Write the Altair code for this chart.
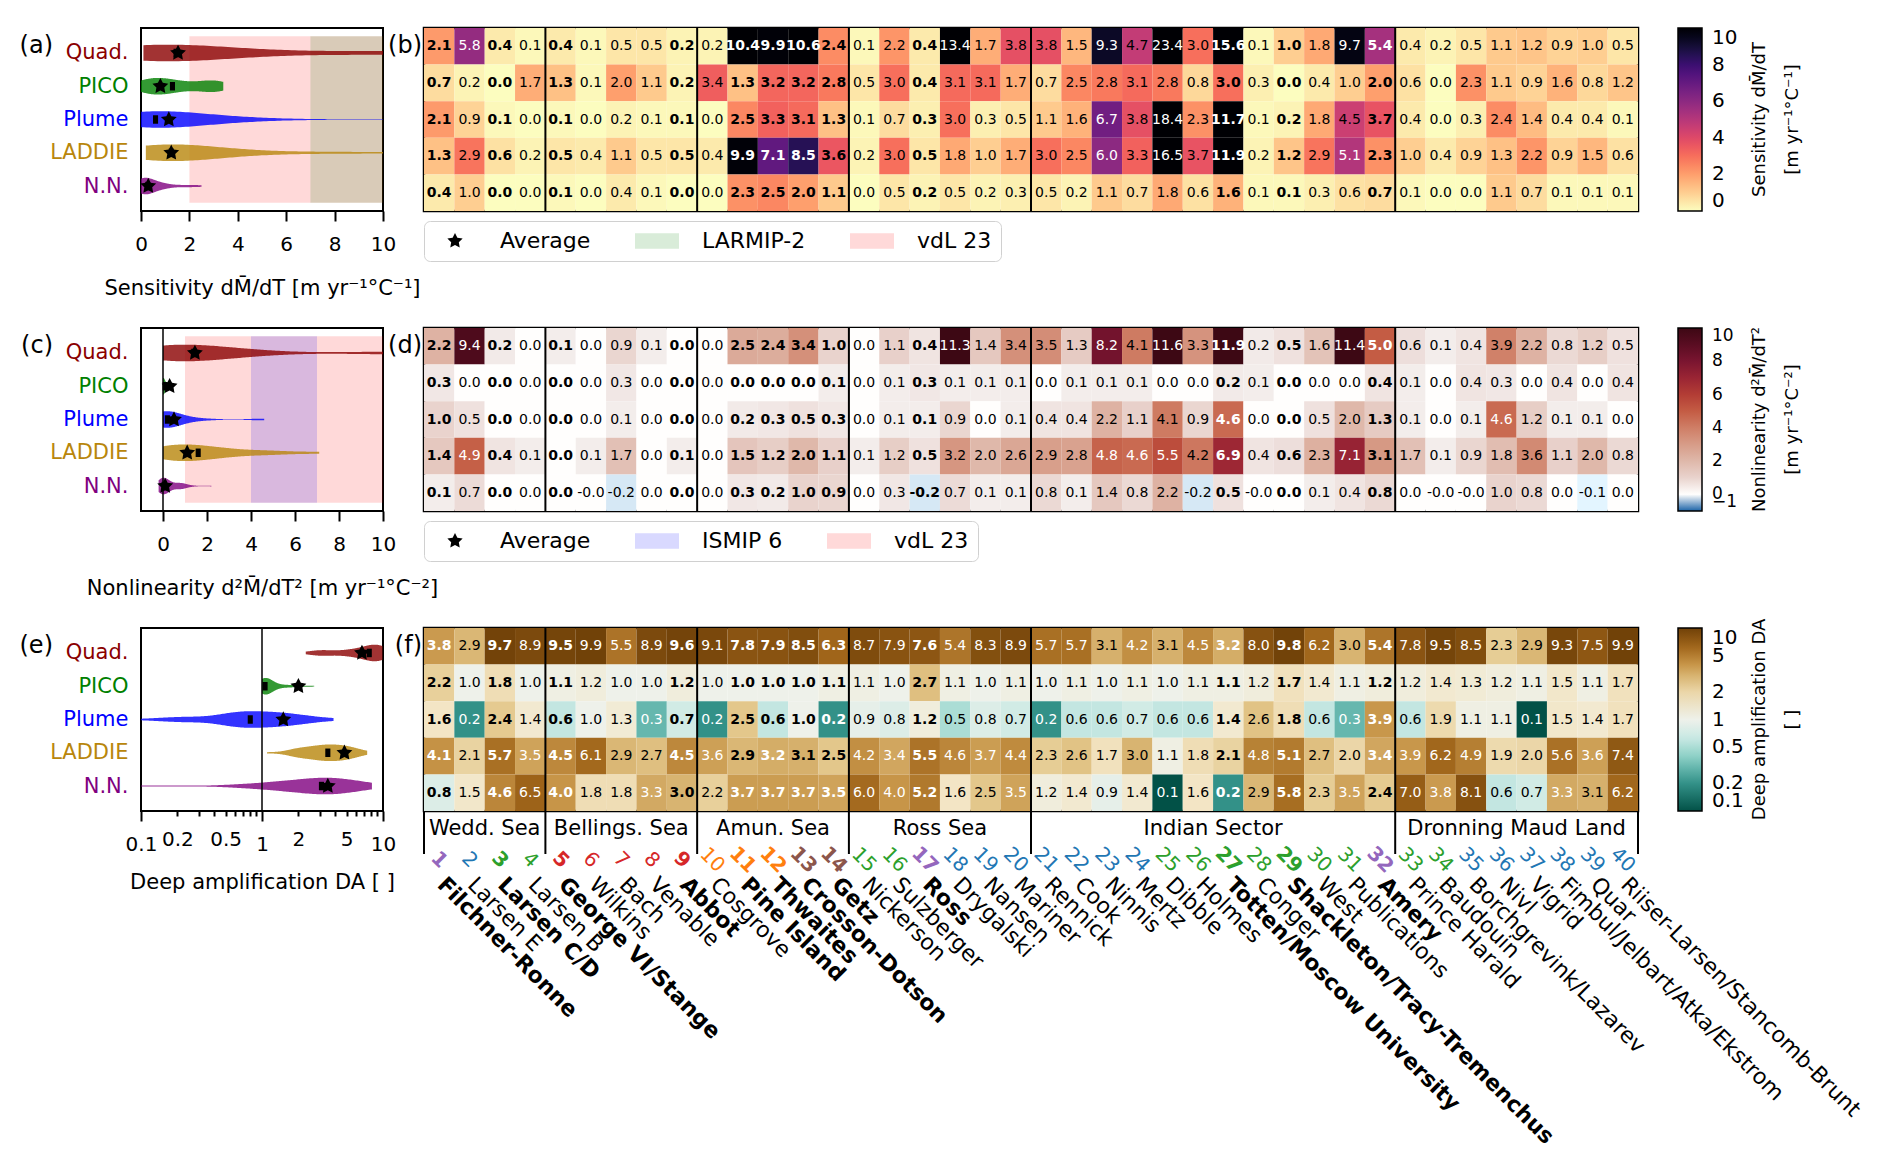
import math
import altair as alt
import numpy as np
import pandas as pd

FONT = "DejaVu Sans"

# ---------------- data ----------------
MODELS = ["Quad.", "PICO", "Plume", "LADDIE", "N.N."]

SHELVES = ["Filchner-Ronne", "Larsen E", "Larsen C/D", "Larsen B", "George VI/Stange", "Wilkins",
           "Bach", "Venable", "Abbot", "Cosgrove", "Pine Island", "Thwaites", "Crosson-Dotson",
           "Getz", "Nickerson", "Sulzberger", "Ross", "Drygalski", "Nansen", "Mariner", "Rennick",
           "Cook", "Ninnis", "Mertz", "Dibble", "Holmes", "Totten/Moscow University", "Conger",
           "Shackleton/Tracy-Tremenchus", "West", "Publications", "Amery", "Prince Harald",
           "Baudouin", "Borchgrevink/Lazarev", "Nivl", "Vigrid", "Fimbul/Jelbart/Atka/Ekstrom",
           "Quar", "Riiser-Larsen/Stancomb-Brunt"]
SHELF_CLASS = ["P", "B", "G", "G", "R", "R", "R", "R", "R", "O", "O", "O", "N", "N", "G", "G", "P",
               "B", "B", "B", "B", "B", "B", "B", "G", "G", "G", "G", "G", "G", "G", "P", "G", "G",
               "B", "B", "B", "B", "B", "B"]
BOLD = [1, 3, 5, 9, 11, 12, 13, 14, 17, 27, 29, 32]

SECTORS = ["Wedd. Sea", "Bellings. Sea", "Amun. Sea", "Ross Sea", "Indian Sector", "Dronning Maud Land"]
SECTOR_FIRST = [1, 5, 10, 15, 21, 33]
SECTOR_LAST = [4, 9, 14, 20, 32, 40]

sens_quad = [2.1, 5.8, 0.4, 0.1, 0.4, 0.1, 0.5, 0.5, 0.2, 0.2, 10.4, 9.9, 10.6, 2.4, 0.1, 2.2, 0.4, 13.4, 1.7, 3.8,
             3.8, 1.5, 9.3, 4.7, 23.4, 3.0, 15.6, 0.1, 1.0, 1.8, 9.7, 5.4, 0.4, 0.2, 0.5, 1.1, 1.2, 0.9, 1.0, 0.5]
sens_pico = [0.7, 0.2, 0.0, 1.7, 1.3, 0.1, 2.0, 1.1, 0.2, 3.4, 1.3, 3.2, 3.2, 2.8, 0.5, 3.0, 0.4, 3.1, 3.1, 1.7,
             0.7, 2.5, 2.8, 3.1, 2.8, 0.8, 3.0, 0.3, 0.0, 0.4, 1.0, 2.0, 0.6, 0.0, 2.3, 1.1, 0.9, 1.6, 0.8, 1.2]
sens_plume = [2.1, 0.9, 0.1, 0.0, 0.1, 0.0, 0.2, 0.1, 0.1, 0.0, 2.5, 3.3, 3.1, 1.3, 0.1, 0.7, 0.3, 3.0, 0.3, 0.5,
              1.1, 1.6, 6.7, 3.8, 18.4, 2.3, 11.7, 0.1, 0.2, 1.8, 4.5, 3.7, 0.4, 0.0, 0.3, 2.4, 1.4, 0.4, 0.4, 0.1]
sens_laddie = [1.3, 2.9, 0.6, 0.2, 0.5, 0.4, 1.1, 0.5, 0.5, 0.4, 9.9, 7.1, 8.5, 3.6, 0.2, 3.0, 0.5, 1.8, 1.0, 1.7,
               3.0, 2.5, 6.0, 3.3, 16.5, 3.7, 11.9, 0.2, 1.2, 2.9, 5.1, 2.3, 1.0, 0.4, 0.9, 1.3, 2.2, 0.9, 1.5, 0.6]
sens_nn = [0.4, 1.0, 0.0, 0.0, 0.1, 0.0, 0.4, 0.1, 0.0, 0.0, 2.3, 2.5, 2.0, 1.1, 0.0, 0.5, 0.2, 0.5, 0.2, 0.3,
           0.5, 0.2, 1.1, 0.7, 1.8, 0.6, 1.6, 0.1, 0.1, 0.3, 0.6, 0.7, 0.1, 0.0, 0.0, 1.1, 0.7, 0.1, 0.1, 0.1]

nl_quad = [2.2, 9.4, 0.2, 0.0, 0.1, 0.0, 0.9, 0.1, 0.0, 0.0, 2.5, 2.4, 3.4, 1.0, 0.0, 1.1, 0.4, 11.3, 1.4, 3.4,
           3.5, 1.3, 8.2, 4.1, 11.6, 3.3, 11.9, 0.2, 0.5, 1.6, 11.4, 5.0, 0.6, 0.1, 0.4, 3.9, 2.2, 0.8, 1.2, 0.5]
nl_pico = [0.3, 0.0, 0.0, 0.0, 0.0, 0.0, 0.3, 0.0, 0.0, 0.0, 0.0, 0.0, 0.0, 0.1, 0.0, 0.1, 0.3, 0.1, 0.1, 0.1,
           0.0, 0.1, 0.1, 0.1, 0.0, 0.0, 0.2, 0.1, 0.0, 0.0, 0.0, 0.4, 0.1, 0.0, 0.4, 0.3, 0.0, 0.4, 0.0, 0.4]
nl_plume = [1.0, 0.5, 0.0, 0.0, 0.0, 0.0, 0.1, 0.0, 0.0, 0.0, 0.2, 0.3, 0.5, 0.3, 0.0, 0.1, 0.1, 0.9, 0.0, 0.1,
            0.4, 0.4, 2.2, 1.1, 4.1, 0.9, 4.6, 0.0, 0.0, 0.5, 2.0, 1.3, 0.1, 0.0, 0.1, 4.6, 1.2, 0.1, 0.1, 0.0]
nl_laddie = [1.4, 4.9, 0.4, 0.1, 0.0, 0.1, 1.7, 0.0, 0.1, 0.0, 1.5, 1.2, 2.0, 1.1, 0.1, 1.2, 0.5, 3.2, 2.0, 2.6,
             2.9, 2.8, 4.8, 4.6, 5.5, 4.2, 6.9, 0.4, 0.6, 2.3, 7.1, 3.1, 1.7, 0.1, 0.9, 1.8, 3.6, 1.1, 2.0, 0.8]
nl_nn = [0.1, 0.7, 0.0, 0.0, 0.0, -0.0, -0.2, 0.0, 0.0, 0.0, 0.3, 0.2, 1.0, 0.9, 0.0, 0.3, -0.2, 0.7, 0.1, 0.1,
         0.8, 0.1, 1.4, 0.8, 2.2, -0.2, 0.5, -0.0, 0.0, 0.1, 0.4, 0.8, 0.0, -0.0, -0.0, 1.0, 0.8, 0.0, -0.1, 0.0]

da_quad = [3.8, 2.9, 9.7, 8.9, 9.5, 9.9, 5.5, 8.9, 9.6, 9.1, 7.8, 7.9, 8.5, 6.3, 8.7, 7.9, 7.6, 5.4, 8.3, 8.9,
           5.7, 5.7, 3.1, 4.2, 3.1, 4.5, 3.2, 8.0, 9.8, 6.2, 3.0, 5.4, 7.8, 9.5, 8.5, 2.3, 2.9, 9.3, 7.5, 9.9]
da_pico = [2.2, 1.0, 1.8, 1.0, 1.1, 1.2, 1.0, 1.0, 1.2, 1.0, 1.0, 1.0, 1.0, 1.1, 1.1, 1.0, 2.7, 1.1, 1.0, 1.1,
           1.0, 1.1, 1.0, 1.1, 1.0, 1.1, 1.1, 1.2, 1.7, 1.4, 1.1, 1.2, 1.2, 1.4, 1.3, 1.2, 1.1, 1.5, 1.1, 1.7]
da_plume = [1.6, 0.2, 2.4, 1.4, 0.6, 1.0, 1.3, 0.3, 0.7, 0.2, 2.5, 0.6, 1.0, 0.2, 0.9, 0.8, 1.2, 0.5, 0.8, 0.7,
            0.2, 0.6, 0.6, 0.7, 0.6, 0.6, 1.4, 2.6, 1.8, 0.6, 0.3, 3.9, 0.6, 1.9, 1.1, 1.1, 0.1, 1.5, 1.4, 1.7]
da_laddie = [4.1, 2.1, 5.7, 3.5, 4.5, 6.1, 2.9, 2.7, 4.5, 3.6, 2.9, 3.2, 3.1, 2.5, 4.2, 3.4, 5.5, 4.6, 3.7, 4.4,
             2.3, 2.6, 1.7, 3.0, 1.1, 1.8, 2.1, 4.8, 5.1, 2.7, 2.0, 3.4, 3.9, 6.2, 4.9, 1.9, 2.0, 5.6, 3.6, 7.4]
da_nn = [0.8, 1.5, 4.6, 6.5, 4.0, 1.8, 1.8, 3.3, 3.0, 2.2, 3.7, 3.7, 3.7, 3.5, 6.0, 4.0, 5.2, 1.6, 2.5, 3.5,
         1.2, 1.4, 0.9, 1.4, 0.1, 1.6, 0.2, 2.9, 5.8, 2.3, 3.5, 2.4, 7.0, 3.8, 8.1, 0.6, 0.7, 3.3, 3.1, 6.2]

avg_sens = [1.53, 0.80, 1.15, 1.25, 0.30]
med_sens = [1.45, 1.30, 0.60, 1.25, 0.28]
avg_nl = [1.45, 0.30, 0.50, 1.10, 0.10]
med_nl = [1.40, 0.10, 0.20, 1.60, 0.05]
avg_da = [6.7, 2.0, 1.5, 4.8, 3.5]
med_da = [7.7, 1.06, 0.80, 3.5, 3.1]

# reference ranges
range_a_kind = ["vdL 23", "LARMIP-2"]
range_a_lo = [2, 7]
range_a_hi = [10, 10]
range_c_kind = ["vdL 23", "ISMIP 6"]
range_c_lo = [1, 4]
range_c_hi = [10, 7]

# ---------------- styles ----------------
MODEL_COLORS = ["#8B0000", "#008000", "#0000FF", "#B8860B", "#800080"]
CLASS_COLOR = {"P": "#9467bd", "B": "#1f77b4", "G": "#2ca02c", "R": "#d62728", "O": "#ff7f0e", "N": "#8c564b"}
KIND_COLOR = {"Average": "black", "LARMIP-2": "#008000", "vdL 23": "#ff0000", "ISMIP 6": "#0000ff"}
KIND_PALE = {"Average": "black", "LARMIP-2": "#d9ecd9", "vdL 23": "#ffd9d9", "ISMIP 6": "#d9d9ff"}
W_V, W_H, H_P = 242, 1214, 183
SIN45 = math.sqrt(0.5)


def star_path(R=0.73, ratio=0.5):
    pts = []
    for k in range(10):
        a = -math.pi / 2 + k * math.pi / 5
        r = R if k % 2 == 0 else R * ratio
        pts.append(f"{r * math.cos(a):.3f},{r * math.sin(a):.3f}")
    return "M" + " L".join(pts) + " Z"


STAR = star_path()
LEG_RECT = "M-2,-0.7 L2,-0.7 L2,0.7 L-2,0.7 Z"
MED_RECT = "M-0.6,-1 L0.6,-1 L0.6,1 L-0.6,1 Z"

LABEL_EXPR = "['" + "','".join(MODELS) + "'][datum.value - 1]"
LABEL_COLOR = "['" + "','".join(MODEL_COLORS) + "'][datum.value - 1]"


def rot_offset(sx, sy):
    """screen offset -> text-local offset for 45 deg rotated text"""
    return (sx + sy) * SIN45, (sy - sx) * SIN45


def panel_label(text, dx):
    return alt.Chart(pd.DataFrame({"t": [text]})).mark_text(
        align="right", baseline="middle", fontSize=24, font=FONT, dx=dx, color="black"
    ).encode(x=alt.value(0), y=alt.value(18), text="t:N")


def violin(rows, avg, med, xscale, xaxis, xtitle, label, log=False,
           kinds=None, lo=None, hi=None, vline=None, legend_y=193):
    ys = alt.Scale(domain=[0.25, 5.75], nice=False, zero=False, reverse=True)
    yaxis = alt.Axis(values=[1, 2, 3, 4, 5], labelExpr=LABEL_EXPR, labelColor={"expr": LABEL_COLOR},
                     ticks=False, domain=False, grid=False, labelFontSize=21, labelPadding=13,
                     labelFont=FONT, labelAlign="right")

    def X(f):
        return alt.X(f, type="quantitative", scale=xscale, axis=xaxis, title=xtitle)

    def Y(f):
        return alt.Y(f, type="quantitative", scale=ys, axis=yaxis, title=None)

    layers = []
    if kinds is not None:
        reg = pd.DataFrame({"kind": kinds, "lo": lo, "hi": hi})
        reg["fc"] = [KIND_COLOR[k] for k in kinds]
        layers.append(alt.Chart(reg).mark_rect(opacity=0.15).encode(
            x=X("lo"), x2="hi:Q", y=alt.datum(0.5), y2=alt.datum(5.5),
            fill=alt.Fill("fc:N", scale=None)))

    # one KDE per model, Scott's rule bandwidth (std * n^-1/5) as in matplotlib's violinplot
    for r, vals in enumerate(rows, start=1):
        arr = np.log10(np.array(vals)) if log else np.array(vals, dtype=float)
        bw = float(np.std(arr, ddof=1) * len(arr) ** (-0.2))
        df = pd.DataFrame({"v": vals, "row": r})
        src = alt.Chart(df)
        fld = "v"
        if log:
            src = src.transform_calculate(lv="log(datum.v) / LN10")
            fld = "lv"
        area = (src.transform_density(fld, groupby=["row"], as_=["dv", "dens"], steps=160, bandwidth=bw)
                .transform_calculate(val="pow(10, datum.dv)" if log else "datum.dv")
                .transform_joinaggregate(maxd="max(dens)")
                .transform_calculate(hi="datum.row + 0.25 * datum.dens / datum.maxd",
                                     lo="datum.row - 0.25 * datum.dens / datum.maxd")
                .mark_area(clip=True, opacity=0.8, color=MODEL_COLORS[r - 1])
                .encode(x=X("val"), y=Y("hi"), y2="lo:Q"))
        layers.append(area)

    if vline is not None:
        layers.append(alt.Chart(pd.DataFrame({"xv": [vline]})).mark_rule(color="black", strokeWidth=1.5)
                      .encode(x=X("xv"), y=alt.value(0), y2=alt.value(H_P)))

    mk = pd.DataFrame({"row": [1, 2, 3, 4, 5], "avg": avg, "med": med, "kind": ["Average"] * 5})
    layers.append(alt.Chart(mk).mark_point(shape=MED_RECT, filled=True, size=72, color="black", opacity=1)
                  .encode(x=X("med"), y=Y("row")))
    if kinds is not None:
        dom = ["Average"] + kinds[::-1]
        leg = alt.Legend(orient="none", legendX=283, legendY=legend_y, direction="horizontal",
                         columns=3, title=None, symbolSize=484, symbolOffset=11, labelOffset=34,
                         columnPadding=44, padding=9, strokeColor="#d0d0d0", cornerRadius=6,
                         fillColor="white", labelFontSize=22, labelFont=FONT, labelColor="black",
                         symbolStrokeWidth=0, symbolOpacity=1)
        stars = alt.Chart(mk).mark_point(filled=True, size=520, opacity=1).encode(
            x=X("avg"), y=Y("row"),
            color=alt.Color("kind:N", scale=alt.Scale(domain=dom, range=[KIND_PALE[k] for k in dom]), legend=leg),
            shape=alt.Shape("kind:N", scale=alt.Scale(domain=dom, range=[STAR, LEG_RECT, LEG_RECT]), legend=leg))
    else:
        stars = alt.Chart(mk).mark_point(filled=True, size=520, shape=STAR, color="black", opacity=1).encode(
            x=X("avg"), y=Y("row"))
    layers.append(stars)
    layers.append(panel_label(label, -88))
    return alt.layer(*layers).properties(
        width=W_V, height=H_P, view=alt.ViewBackground(stroke="black", strokeWidth=2))


def heatmap(rows, cscale, legend, white_test, label, cb_title, below=False):
    recs = []
    for r, vals in enumerate(rows):
        for c, v in enumerate(vals, start=1):
            recs.append(dict(model=MODELS[r], row=r, col=c, v=v, lab=f"{v:.1f}", bold=c in BOLD))
    df = pd.DataFrame(recs)
    xs = alt.Scale(domain=[0.5, 40.5], nice=False, zero=False)
    ys = alt.Scale(domain=[-0.5, 4.5], nice=False, zero=False, reverse=True)
    X = lambda f: alt.X(f, type="quantitative", scale=xs, axis=None)
    Y = lambda f: alt.Y(f, type="quantitative", scale=ys, axis=None)
    base = alt.Chart(df)
    cells = (base.transform_calculate(x0="datum.col - 0.5", x1="datum.col + 0.5",
                                      y0="datum.row - 0.5", y1="datum.row + 0.5")
             .mark_rect()
             .encode(x=X("x0"), x2="x1:Q", y=Y("y0"), y2="y1:Q",
                     color=alt.Color("v:Q", scale=cscale, legend=legend)))
    tcol = alt.condition(white_test, alt.value("white"), alt.value("black"))
    t_reg = base.transform_filter("!datum.bold").mark_text(fontSize=14, font=FONT).encode(
        x=X("col"), y=Y("row"), text="lab:N", color=tcol)
    t_bold = base.transform_filter("datum.bold").mark_text(fontSize=14, font=FONT, fontWeight="bold").encode(
        x=X("col"), y=Y("row"), text="lab:N", color=tcol)
    seps = pd.DataFrame({"b": [l + 0.5 for l in SECTOR_LAST[:-1]]})
    rule = alt.Chart(seps).mark_rule(color="black", strokeWidth=2).encode(
        x=X("b"), y=alt.value(0), y2=alt.value(H_P + 43 if below else H_P))
    # colour-bar title (rotated, two lines) to the right of the colour bar
    cbt = alt.Chart(pd.DataFrame({"t": [cb_title[0]], "u": [cb_title[1]]}))
    t1 = cbt.mark_text(angle=270, fontSize=18, font=FONT, align="center", baseline="middle",
                       color="black").encode(x=alt.value(W_H + 122), y=alt.value(H_P / 2), text="t:N")
    t2 = cbt.mark_text(angle=270, fontSize=18, font=FONT, align="center", baseline="middle",
                       color="black").encode(x=alt.value(W_H + 155), y=alt.value(H_P / 2), text="u:N")
    layers = [cells, t_reg, t_bold, rule, panel_label(label, -2), t1, t2]
    if below:
        edges = pd.DataFrame({"b": [0.5, 40.5]})
        layers.append(alt.Chart(edges).mark_rule(color="black", strokeWidth=2).encode(
            x=X("b"), y=alt.value(H_P), y2=alt.value(H_P + 43)))
        sec = pd.DataFrame({"name": SECTORS,
                            "c": [(a + b) / 2 for a, b in zip(SECTOR_FIRST, SECTOR_LAST)]})
        layers.append(alt.Chart(sec).mark_text(fontSize=21, font=FONT, dy=18, baseline="middle",
                                               color="black").encode(
            x=X("c"), y=alt.value(H_P), text="name:N"))
        sh = pd.DataFrame({"col": list(range(1, 41)), "name": SHELVES,
                           "num": [str(i) for i in range(1, 41)],
                           "nc": [CLASS_COLOR[k] for k in SHELF_CLASS],
                           "bold": [i in BOLD for i in range(1, 41)]})
        ndx, ndy = rot_offset(0, 49)
        mdx, mdy = rot_offset(9, 63)
        for bold in (False, True):
            sub = sh[sh["bold"] == bold]
            fw = "bold" if bold else "normal"
            layers.append(alt.Chart(sub).mark_text(fontSize=20, font=FONT, fontWeight=fw, angle=45,
                                                   dx=ndx, dy=ndy, align="center", baseline="middle").encode(
                x=X("col"), y=alt.value(H_P), text="num:N", color=alt.Color("nc:N", scale=None)))
            layers.append(alt.Chart(sub).mark_text(fontSize=22, font=FONT, fontWeight=fw, angle=45,
                                                   dx=mdx, dy=mdy, align="left", baseline="top",
                                                   color="black").encode(
                x=X("col"), y=alt.value(H_P), text="name:N"))
    return alt.layer(*layers).properties(
        width=W_H, height=H_P, view=alt.ViewBackground(stroke="black", strokeWidth=2.5))


def cbar(values, label_expr=None, label_size=20):
    kw = dict(orient="none", legendX=1254, legendY=0, direction="vertical", gradientLength=H_P,
              gradientThickness=24, gradientStrokeColor="black", gradientStrokeWidth=1.5,
              labelFontSize=label_size, labelFont=FONT, labelColor="black", labelOffset=10,
              labelOverlap=False, values=values, title=None, padding=0)
    if label_expr:
        kw["labelExpr"] = label_expr
    return alt.Legend(**kw)


D_DOMAIN = [-1, -0.6, -0.2, 0, 0.05, 1, 2, 3, 4, 5, 6, 7, 8, 9, 10]
D_RANGE = ["#1c64a8", "#7fb2da", "#d6e8f5", "#ffffff", "#f3eeed", "#e9d3cd", "#dfb8aa", "#d79c88",
           "#cf7e66", "#c45c44", "#b33d35", "#9a2534", "#7a1530", "#5a0d22", "#3d0814"]

# ---------------- panels ----------------
ax_lin = dict(tickSize=10, tickWidth=2, tickColor="black", domain=False, grid=False, labelFontSize=20,
              labelFont=FONT, labelColor="black", labelPadding=13, labelFlush=False, titleFontSize=21,
              titleFont=FONT, titleFontWeight="normal", titleColor="black", titlePadding=23)

va = violin([sens_quad, sens_pico, sens_plume, sens_laddie, sens_nn], avg_sens, med_sens,
            alt.Scale(domain=[0, 10], nice=False, zero=False),
            alt.Axis(values=[0, 2, 4, 6, 8, 10], **ax_lin),
            "Sensitivity dM\u0304/dT [m yr\u207b\u00b9\u00b0C\u207b\u00b9]", "(a)",
            kinds=range_a_kind, lo=range_a_lo, hi=range_a_hi)
vc = violin([nl_quad, nl_pico, nl_plume, nl_laddie, nl_nn], avg_nl, med_nl,
            alt.Scale(domain=[-1, 10], nice=False, zero=False),
            alt.Axis(values=[0, 2, 4, 6, 8, 10], **ax_lin),
            "Nonlinearity d\u00b2M\u0304/dT\u00b2 [m yr\u207b\u00b9\u00b0C\u207b\u00b2]", "(c)",
            kinds=range_c_kind, lo=range_c_lo, hi=range_c_hi, vline=0)
ax_log = dict(ax_lin)
ax_log.pop("tickSize")
ax_log["titlePadding"] = 17
ve = violin([da_quad, da_pico, da_plume, da_laddie, da_nn], avg_da, med_da,
            alt.Scale(type="log", domain=[0.1, 10], nice=False),
            alt.Axis(values=[0.1, 0.2, 0.3, 0.4, 0.5, 0.6, 0.7, 0.8, 0.9, 1, 2, 3, 4, 5, 6, 7, 8, 9, 10],
                     labelExpr="indexof([0.1, 0.2, 0.5, 1, 2, 5, 10], datum.value) >= 0 ? '' + datum.value : ''",
                     labelOverlap=False,
                     tickSize={"condition": {"test": "indexof([0.1, 1, 10], datum.value) >= 0", "value": 10},
                               "value": 5},
                     **ax_log),
            "Deep amplification DA [ ]", "(e)", log=True, vline=1)

hb = heatmap([sens_quad, sens_pico, sens_plume, sens_laddie, sens_nn],
             alt.Scale(scheme="magma", reverse=True, domain=[0, 10], clamp=True),
             cbar([0, 2, 4, 6, 8, 10]),
             "datum.v > 5", "(b)",
             ["Sensitivity dM\u0304/dT", "[m yr\u207b\u00b9\u00b0C\u207b\u00b9]"])
hd = heatmap([nl_quad, nl_pico, nl_plume, nl_laddie, nl_nn],
             alt.Scale(domain=D_DOMAIN, range=D_RANGE, clamp=True),
             cbar([-1, 0, 2, 4, 6, 8, 10], label_size=17),
             "datum.v > 4.5", "(d)",
             ["Nonlinearity d\u00b2M\u0304/dT\u00b2", "[m yr\u207b\u00b9\u00b0C\u207b\u00b2]"])
hf = heatmap([da_quad, da_pico, da_plume, da_laddie, da_nn],
             alt.Scale(type="log", domain=[0.1, 10], scheme="brownbluegreen", reverse=True, clamp=True),
             cbar([0.1, 0.2, 0.5, 1, 2, 5, 10], "'' + datum.value"),
             "datum.v >= 3.2 || datum.v <= 0.3", "(f)",
             ["Deep amplification DA", "[ ]"], below=True)

chart = (alt.concat(va, hb, vc, hd, ve, hf, columns=2, spacing={"row": 117, "column": 41}, bounds="flush")
         .resolve_scale(color="independent", shape="independent")
         .properties(padding={"left": 10, "top": 17, "right": 5, "bottom": 5})
         .configure(font=FONT)
         .configure_view(stroke=None))

chart.save("out.html", embed_options={"renderer": "svg", "actions": False})
